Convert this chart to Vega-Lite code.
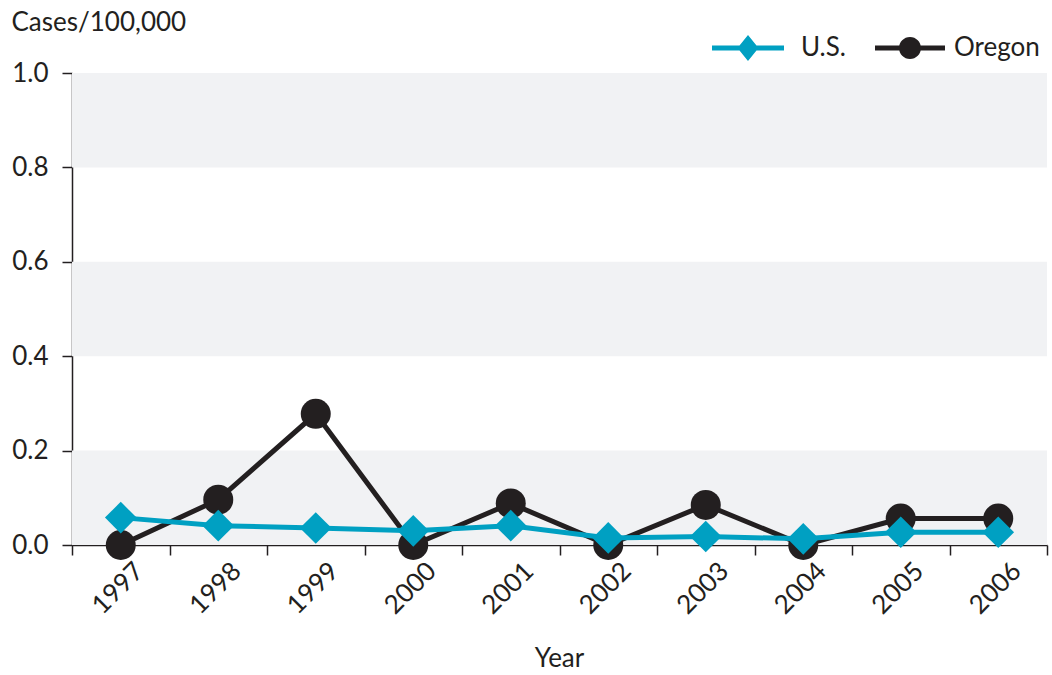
{
  "$schema": "https://vega.github.io/schema/vega-lite/v6.json",
  "autosize": "none",
  "width": 975,
  "height": 472,
  "padding": {"left": 72, "top": 73, "right": 5, "bottom": 130},
  "background": "white",
  "config": {
    "font": "Lato",
    "view": {"stroke": null},
    "axis": {"labelFont": "Lato", "titleFont": "Lato", "labelColor": "#231f20", "titleColor": "#231f20", "domainColor": "#231f20", "tickColor": "#231f20", "domainWidth": 1.5, "tickWidth": 1.5}
  },
  "datasets": {
    "series": [
      {"Year": "1997", "series": "Oregon", "rate": 0.0},
      {"Year": "1998", "series": "Oregon", "rate": 0.096},
      {"Year": "1999", "series": "Oregon", "rate": 0.278},
      {"Year": "2000", "series": "Oregon", "rate": 0.0},
      {"Year": "2001", "series": "Oregon", "rate": 0.088},
      {"Year": "2002", "series": "Oregon", "rate": 0.0},
      {"Year": "2003", "series": "Oregon", "rate": 0.085},
      {"Year": "2004", "series": "Oregon", "rate": 0.0},
      {"Year": "2005", "series": "Oregon", "rate": 0.056},
      {"Year": "2006", "series": "Oregon", "rate": 0.056},
      {"Year": "1997", "series": "U.S.", "rate": 0.058},
      {"Year": "1998", "series": "U.S.", "rate": 0.041},
      {"Year": "1999", "series": "U.S.", "rate": 0.036},
      {"Year": "2000", "series": "U.S.", "rate": 0.030},
      {"Year": "2001", "series": "U.S.", "rate": 0.041},
      {"Year": "2002", "series": "U.S.", "rate": 0.015},
      {"Year": "2003", "series": "U.S.", "rate": 0.018},
      {"Year": "2004", "series": "U.S.", "rate": 0.013},
      {"Year": "2005", "series": "U.S.", "rate": 0.027},
      {"Year": "2006", "series": "U.S.", "rate": 0.027}
    ],
    "bands": [
      {"lo": 0.0, "hi": 0.2},
      {"lo": 0.4, "hi": 0.6},
      {"lo": 0.8, "hi": 1.0}
    ]
  },
  "layer": [
    {
      "data": {"name": "bands"},
      "mark": {"type": "rect", "color": "#f1f2f4"},
      "encoding": {
        "y": {"field": "lo", "type": "quantitative", "scale": {"domain": [0, 1]}},
        "y2": {"field": "hi"}
      }
    },
    {
      "data": {"name": "series"},
      "transform": [{"filter": "datum.series === 'Oregon'"}],
      "mark": {"type": "line", "strokeWidth": 5},
      "encoding": {
        "x": {"field": "Year", "type": "ordinal", "bandPosition": 0.5},
        "y": {"field": "rate", "type": "quantitative"},
        "color": {"field": "series", "type": "nominal"}
      }
    },
    {
      "data": {"name": "series"},
      "transform": [{"filter": "datum.series === 'Oregon'"}],
      "mark": {"type": "point", "filled": true, "opacity": 1, "shape": "circle", "size": 900},
      "encoding": {
        "x": {"field": "Year", "type": "ordinal", "bandPosition": 0.5},
        "y": {"field": "rate", "type": "quantitative"},
        "color": {"field": "series", "type": "nominal"}
      }
    },
    {
      "data": {"name": "series"},
      "transform": [{"filter": "datum.series === 'U.S.'"}],
      "mark": {"type": "line", "strokeWidth": 5},
      "encoding": {
        "x": {"field": "Year", "type": "ordinal", "bandPosition": 0.5},
        "y": {"field": "rate", "type": "quantitative"},
        "color": {"field": "series", "type": "nominal"}
      }
    },
    {
      "data": {"name": "series"},
      "transform": [{"filter": "datum.series === 'U.S.'"}],
      "mark": {"type": "point", "filled": true, "opacity": 1, "shape": "diamond", "size": 1000},
      "encoding": {
        "x": {
          "field": "Year", "type": "ordinal", "bandPosition": 0.5,
          "scale": {"type": "band", "paddingInner": 0, "paddingOuter": 0},
          "axis": {
            "title": "Year", "titleFontSize": 26, "titleFontWeight": "normal",
            "titleX": 487, "titleY": 121, "titleBaseline": "alphabetic", "titleAlign": "center",
            "tickBand": "extent", "tickSize": 10, "labelAngle": -45, "labelAlign": "center",
            "labelBaseline": "middle", "labelPadding": 33, "labelOffset": -3, "labelFontSize": 26
          }
        },
        "y": {
          "field": "rate", "type": "quantitative",
          "scale": {"domain": [0, 1], "nice": false},
          "axis": {
            "values": [0, 0.2, 0.4, 0.6, 0.8, 1.0], "format": ".1f", "grid": false,
            "tickSize": 10, "labelPadding": 14, "labelFontSize": 26,
            "title": "Cases/100,000", "titleAngle": 0, "titleAlign": "left", "titleBaseline": "alphabetic",
            "titleX": -61, "titleY": -43, "titleFontSize": 26, "titleFontWeight": "normal"
          }
        },
        "color": {
          "field": "series", "type": "nominal",
          "scale": {"domain": ["U.S.", "Oregon"], "range": ["#00a0c2", "#231f20"]},
          "legend": {
            "title": null, "orient": "none", "direction": "horizontal",
            "legendX": 649, "legendY": -38,
            "symbolSize": 400, "labelOffset": 54, "labelFontSize": 26, "labelColor": "#231f20", "labelFont": "Lato",
            "columnPadding": 28, "symbolStrokeWidth": 0, "symbolOpacity": 1
          }
        }
      }
    },
    {
      "data": {"name": "series"},
      "mark": {"type": "point", "filled": true, "opacity": 1, "size": 0},
      "encoding": {
        "x": {"field": "Year", "type": "ordinal", "bandPosition": 0.5},
        "y": {"field": "rate", "type": "quantitative"},
        "color": {"field": "series", "type": "nominal"},
        "shape": {
          "field": "series", "type": "nominal",
          "scale": {
            "domain": ["U.S.", "Oregon"],
            "range": [
              "M-2.2,-0.25 L0.552,-0.25 L1.4,-1.3 L2.248,-0.25 L5,-0.25 L5,0.25 L2.248,0.25 L1.4,1.3 L0.552,0.25 L-2.2,0.25 Z",
              "M-1.2,-0.25 L5.8,-0.25 L5.8,0.25 L-1.2,0.25 Z M3.4,0 A1.1,1.1 0 1,1 1.2,0 A1.1,1.1 0 1,1 3.4,0 Z"
            ]
          },
          "legend": {
            "title": null, "orient": "none", "direction": "horizontal",
            "legendX": 649, "legendY": -38,
            "symbolSize": 400, "labelOffset": 54, "labelFontSize": 26, "labelColor": "#231f20", "labelFont": "Lato",
            "columnPadding": 28, "symbolStrokeWidth": 0, "symbolOpacity": 1
          }
        }
      }
    }
  ]
}
